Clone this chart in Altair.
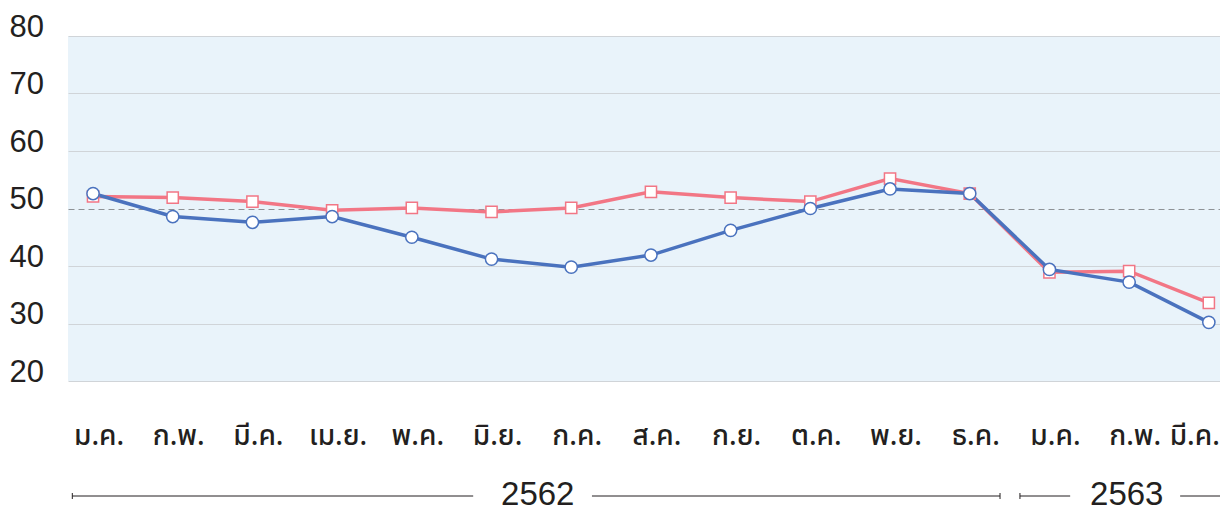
import altair as alt
import pandas as pd

months = ["ม.ค.", "ก.พ.", "มี.ค.", "เม.ย.", "พ.ค.", "มิ.ย.", "ก.ค.", "ส.ค.",
          "ก.ย.", "ต.ค.", "พ.ย.", "ธ.ค.", "ม.ค.", "ก.พ.", "มี.ค."]
blue_vals = [52.6, 48.6, 47.6, 48.6, 45.0, 41.2, 39.8, 41.9, 46.2, 50.0,
             53.4, 52.6, 39.4, 37.2, 30.2]
red_vals = [52.1, 51.9, 51.2, 49.7, 50.1, 49.4, 50.1, 52.9, 51.9, 51.2,
            55.2, 52.6, 38.9, 39.1, 33.6]
y_ticks = [20, 30, 40, 50, 60, 70, 80]

# year brackets (in month-index units)
seg_start = [-0.26, 6.26, 11.63, 13.64]
seg_end = [4.77, 11.38, 12.26, 14.4]
bracket_ends = [-0.26, 11.38, 11.63, 14.4]
year_labels = ["2562", "2563"]
year_pos = [5.58, 12.97]

W, H = 1152, 345
BLUE = "#4A72BE"
RED = "#F27685"
N = len(months)

df = pd.DataFrame({
    "i": list(range(N)) * 2,
    "month": months * 2,
    "value": blue_vals + red_vals,
    "series": ["blue"] * N + ["red"] * N,
})
mdf = pd.DataFrame({"i": list(range(N)), "month": months})
segdf = pd.DataFrame({"x": seg_start, "x2": seg_end})
enddf = pd.DataFrame({"x": bracket_ends})
ydf = pd.DataFrame({"x": year_pos, "label": year_labels})

xscale = alt.Scale(domain=[-0.314, 14.14], nice=False, zero=False)
yscale = alt.Scale(domain=[20, 80], nice=False, zero=False)

x_enc = alt.X("i:Q", scale=xscale, axis=None)
y_enc = alt.Y(
    "value:Q",
    scale=yscale,
    axis=alt.Axis(
        values=y_ticks,
        title=None,
        ticks=False,
        tickSize=0,
        domain=False,
        labelAlign="left",
        labelBaseline="alphabetic",
        labelPadding=59,
        labelFont="Liberation Sans",
        labelFontSize=31,
        labelColor="#231F20",
        grid=True,
        gridColor={"condition": {"test": "datum.value === 50", "value": "#8E9296"},
                   "value": "#D0D4D8"},
        gridDash={"condition": {"test": "datum.value === 50", "value": [6, 4]},
                  "value": []},
        gridWidth=1,
    ),
)

base = alt.Chart(df)

red_line = base.transform_filter("datum.series === 'red'").mark_line(
    color=RED, strokeWidth=3.5).encode(x=x_enc, y=y_enc)
blue_line = base.transform_filter("datum.series === 'blue'").mark_line(
    color=BLUE, strokeWidth=3.5).encode(x=x_enc, y=y_enc)
red_pts = base.transform_filter("datum.series === 'red'").mark_point(
    shape="square", filled=True, fill="white", stroke=RED, strokeWidth=1.5,
    size=125, opacity=1).encode(x=x_enc, y=y_enc)
blue_pts = base.transform_filter("datum.series === 'blue'").mark_point(
    shape="circle", filled=True, fill="white", stroke=BLUE, strokeWidth=1.5,
    size=150, opacity=1).encode(x=x_enc, y=y_enc)

text_style = dict(font="Noto Sans Thai, Noto Sans, sans-serif", fontSize=28,
                  fontWeight=500, color="#231F20", baseline="alphabetic")
month_text = alt.Chart(mdf).transform_filter(f"datum.i < {N - 1}").mark_text(
    align="center", dx=6, **text_style).encode(
    x=alt.X("i:Q", scale=xscale, axis=None),
    y=alt.value(H + 64),
    text="month:N",
)
last_month_text = alt.Chart(mdf).transform_filter(f"datum.i === {N - 1}").mark_text(
    align="right", dx=11, **text_style).encode(
    x=alt.X("i:Q", scale=xscale, axis=None),
    y=alt.value(H + 64),
    text="month:N",
)

seg_rules = alt.Chart(segdf).mark_rule(color="#231F20", strokeWidth=1).encode(
    x=alt.X("x:Q", scale=xscale, axis=None),
    x2="x2:Q",
    y=alt.value(H + 115),
)
end_ticks = alt.Chart(enddf).mark_rule(color="#231F20", strokeWidth=1).encode(
    x=alt.X("x:Q", scale=xscale, axis=None),
    y=alt.value(H + 112),
    y2=alt.value(H + 118),
)
year_text = alt.Chart(ydf).mark_text(
    font="Liberation Sans", fontSize=33, color="#231F20",
    baseline="alphabetic", align="center").encode(
    x=alt.X("x:Q", scale=xscale, axis=None),
    y=alt.value(H + 124),
    text="label:N",
)

chart = alt.layer(
    red_line, blue_line, red_pts, blue_pts,
    month_text, last_month_text, seg_rules, end_ticks, year_text,
).properties(
    width=W, height=H,
    autosize="none",
    padding={"left": 60, "top": 28, "right": 0, "bottom": 131},
    background="white",
).configure_view(fill="#E9F3FA", stroke=None)

chart.save("out.html", embed_options={"renderer": "svg", "actions": False})
